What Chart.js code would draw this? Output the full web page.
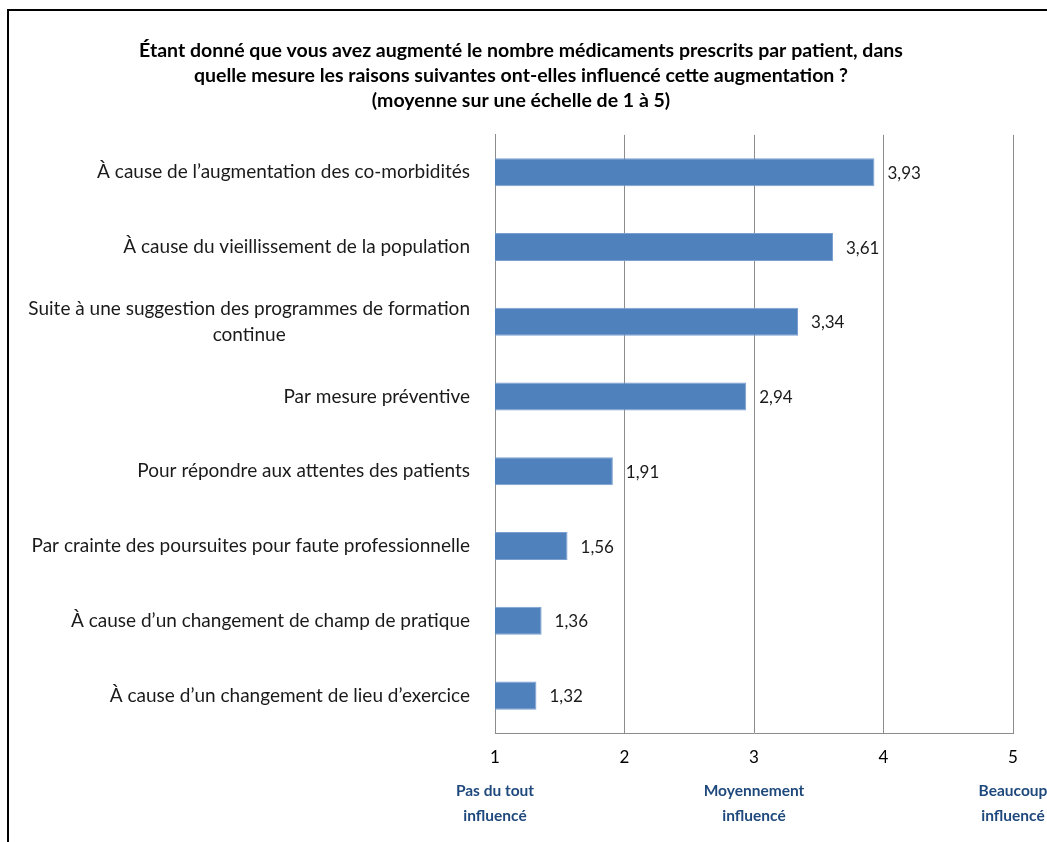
<!DOCTYPE html>
<html><head><meta charset="utf-8">
<script src="https://cdn.jsdelivr.net/npm/chart.js@4.4.1/dist/chart.umd.min.js"></script>
<style>
html,body{margin:0;padding:0;background:#fff;width:1047px;height:842px;overflow:hidden;}
#frame{position:absolute;left:7px;top:9px;width:1100px;height:900px;border-left:2px solid #000;border-top:2px solid #000;}
#wrap{position:absolute;left:0;top:0;width:1047px;height:842px;}
</style></head>
<body>
<div id="frame"></div>
<div id="wrap"><canvas id="c" width="1047" height="842"></canvas></div>
<script>
const titleLines = [
  "Étant donné que vous avez augmenté le nombre médicaments prescrits par patient, dans",
  "quelle mesure les raisons suivantes ont-elles influencé cette augmentation ?",
  "(moyenne sur une échelle de 1 à 5)"
];
const categories = [
  ["À cause de l’augmentation des co-morbidités"],
  ["À cause du vieillissement de la population"],
  ["Suite à une suggestion des programmes de formation", "continue"],
  ["Par mesure préventive"],
  ["Pour répondre aux attentes des patients"],
  ["Par crainte des poursuites pour faute professionnelle"],
  ["À cause d’un changement de champ de pratique"],
  ["À cause d’un changement de lieu d’exercice"]
];
const values = [3.93, 3.61, 3.34, 2.94, 1.91, 1.56, 1.36, 1.32];
const valueLabels = ["3,93", "3,61", "3,34", "2,94", "1,91", "1,56", "1,36", "1,32"];
const tickValues = [1, 2, 3, 4, 5];
const scaleNotes = [
  {value: 1, lines: ["Pas du tout", "influencé"]},
  {value: 3, lines: ["Moyennement", "influencé"]},
  {value: 5, lines: ["Beaucoup", "influencé"]}
];

const FONT = "Lato, 'Open Sans', sans-serif";

const labelsPlugin = {
  id: 'customLabels',
  afterDraw(chart) {
    const ctx = chart.ctx;
    const y = chart.scales.y, x = chart.scales.x;
    ctx.save();
    ctx.font = "19px " + FONT;
    ctx.fillStyle = "#1a1a1a";
    ctx.textBaseline = "middle";
    ctx.textAlign = "center";
    const rightEdge = chart.chartArea.left - 25;
    const lh = 26;
    categories.forEach((lines, i) => {
      const cy = y.getPixelForTick(i);
      const w = Math.max(...lines.map(l => ctx.measureText(l).width));
      const cx = rightEdge - w / 2;
      const y0 = cy - (lines.length - 1) * lh / 2;
      lines.forEach((l, j) => ctx.fillText(l, cx, y0 + j * lh));
    });
    const meta = chart.getDatasetMeta(0);
    ctx.font = "17px " + FONT;
    ctx.textAlign = "left";
    meta.data.forEach((bar, i) => {
      ctx.fillText(valueLabels[i], bar.x + 13, bar.y + 1);
    });
    ctx.font = "bold 15.5px " + FONT;
    ctx.fillStyle = "#1F497D";
    ctx.textAlign = "center";
    scaleNotes.forEach(n => {
      const px = x.getPixelForValue(n.value);
      n.lines.forEach((l, j) => ctx.fillText(l, px, 791 + j * 25));
    });
    ctx.restore();
  }
};

new Chart(document.getElementById('c'), {
  type: 'bar',
  data: {
    labels: categories.map(c => c.join(' ')),
    datasets: [{
      data: values,
      backgroundColor: '#4F81BD',
      borderColor: '#7BA0D0',
      borderWidth: 1,
      borderSkipped: false,
      barPercentage: 0.75,
      categoryPercentage: 0.5
    }]
  },
  options: {
    responsive: false,
    animation: false,
    indexAxis: 'y',
    layout: {padding: {top: 38, left: 29, right: 34, bottom: 0}},
    plugins: {
      legend: {display: false},
      tooltip: {enabled: false},
      title: {
        display: true,
        text: titleLines,
        color: '#000',
        font: {family: FONT, size: 19.5, weight: 'bold', lineHeight: 1.28},
        padding: {top: 0, bottom: 22}
      }
    },
    scales: {
      x: {
        type: 'linear',
        min: 1, max: 5,
        afterBuildTicks(scale) { scale.ticks = tickValues.map(v => ({value: v})); },
        afterFit(scale) { scale.height = 109; },
        grid: {color: '#8c8c8c', lineWidth: 1, drawTicks: false},
        border: {display: true, color: '#8c8c8c'},
        ticks: {color: '#000', font: {family: FONT, size: 17}, padding: 14}
      },
      y: {
        afterFit(scale) { scale.width = 466; },
        grid: {display: false},
        border: {display: true, color: '#8c8c8c'},
        ticks: {display: false}
      }
    }
  },
  plugins: [labelsPlugin]
});
</script>
</body></html>
